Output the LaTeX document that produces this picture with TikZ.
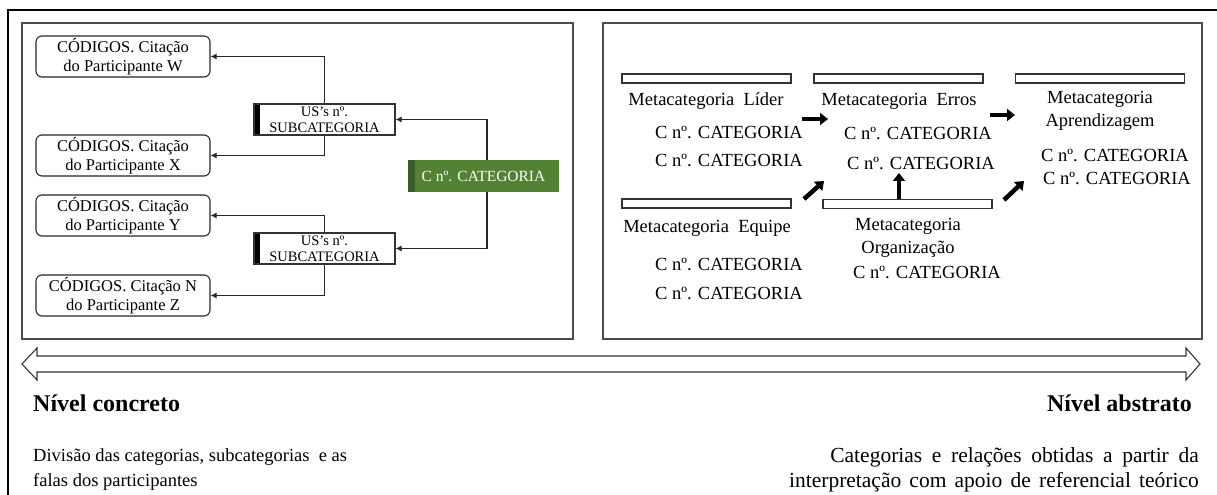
\documentclass[tikz,border=0pt]{standalone}
\usepackage{fontspec}
\setmainfont{Liberation Serif}
\usetikzlibrary{arrows.meta}
\newcommand{\fsz}[2]{\fontsize{#1bp}{#2bp}\selectfont}
\definecolor{catgreen}{HTML}{548235}
\definecolor{catdark}{HTML}{3B5E25}
\begin{document}
\begin{tikzpicture}[x=1bp,y=-1bp,
  panel/.style={draw=black!70,line width=1.4bp},
  codebox/.style={draw=black!85,line width=1.1bp,rounded corners=6bp,minimum width=174bp,minimum height=41bp,inner sep=0pt,align=center,font=\fsz{16.5}{19}},
  usbox/.style={draw=black!80,line width=1.1bp,minimum width=141bp,minimum height=31bp,inner sep=0pt,align=center,font=\fsz{14.5}{16},
    path picture={\fill[black] (path picture bounding box.south west) rectangle ([xshift=6bp]path picture bounding box.north west);}},
  catbox/.style={fill=catgreen,minimum width=151bp,minimum height=32bp,inner sep=0pt,text=white,font=\fsz{15.5}{18},
    path picture={\fill[catdark] (path picture bounding box.south west) rectangle ([xshift=7bp]path picture bounding box.north west);}},
  conn/.style={draw=black!85,line width=1.1bp,-{Latex[length=6bp,width=6bp]}},
  bar/.style={draw=black!80,line width=1.1bp,fill=white,minimum width=169bp,minimum height=9bp,inner sep=0pt},
  meta/.style={inner sep=0pt,font=\fsz{18.5}{23},align=center},
  blockarrow/.style={line width=4.5bp,-{Triangle[length=8bp,width=12bp]}},
  lvl/.style={inner sep=0pt,font=\bfseries\fsz{24}{28}},
  descl/.style={inner sep=0pt,font=\fsz{18.5}{25}},
  descr/.style={inner sep=0pt,font=\fsz{21.5}{25}}]
\useasboundingbox (0,0) rectangle (1217,495);
\begin{scope}
\clip (0,0) rectangle (1217,495);
% outer frame
\draw[line width=1.2bp] (8,520) -- (8,10) -- (1240,10);
\end{scope}
% the two panels
\draw[panel] (22,23) rectangle (573,339);
\draw[panel] (603,23) rectangle (1202,339);

% ---------- concrete level: codes, subcategories, category ----------
\node[codebox] (w) at (123,56.5) {CÓDIGOS. Citação\\do Participante W};
\node[codebox] (x) at (123,155.5) {CÓDIGOS. Citação\\do Participante X};
\node[codebox] (y) at (123,215.5) {CÓDIGOS. Citação\\do Participante Y};
\node[codebox] (z) at (123,295.5) {CÓDIGOS. Citação N\\do Participante Z};
\node[usbox] (us1) at (324.5,119.5) {US’s nº.\\SUBCATEGORIA};
\node[usbox] (us2) at (324.5,248.5) {US’s nº.\\SUBCATEGORIA};
\node[catbox] (cat) at (483.5,176) {C nº. CATEGORIA};

\draw[conn] ([xshift=3.5bp]cat.north) |- (us1.east);
\draw[conn] ([xshift=3.5bp]cat.south) |- (us2.east);
\draw[conn] (us1.north) |- (w.east);
\draw[conn] (us1.south) |- (x.east);
\draw[conn] (us2.north) |- (y.east);
\draw[conn] (us2.south) |- (z.east);

% ---------- abstract level: metacategories ----------
\node[bar] (barL) at (706.5,78.5) {};
\node[bar] (barE) at (898.5,78.5) {};
\node[bar] (barA) at (1100,78.5) {};
\node[bar] (barQ) at (706.5,203.5) {};
\node[bar] (barO) at (907.5,204) {};

\node[meta] (mL) at (706,101) {Metacategoria\ \ Líder};
\node[meta,anchor=west] (cL1) at (655,132) {C nº. CATEGORIA};
\node[meta,anchor=west] (cL2) at (655,160) {C nº. CATEGORIA};

\node[meta] (mE) at (899,101) {Metacategoria\ \ Erros};
\node[meta,anchor=west] (cE1) at (844,133) {C nº. CATEGORIA};
\node[meta,anchor=west] (cE2) at (847,163) {C nº. CATEGORIA};

\node[meta] (mA) at (1100,111) {Metacategoria\\Aprendizagem};
\node[meta,anchor=west] (cA1) at (1041,155) {C nº. CATEGORIA};
\node[meta,anchor=west] (cA2) at (1043,178) {C nº. CATEGORIA};

\node[meta] (mQ) at (707,228) {Metacategoria\ \ Equipe};
\node[meta,anchor=west] (cQ1) at (655,264) {C nº. CATEGORIA};
\node[meta,anchor=west] (cQ2) at (655,293) {C nº. CATEGORIA};

\node[meta] (mO) at (908,238) {Metacategoria\\Organização};
\node[meta,anchor=west] (cO) at (853,272) {C nº. CATEGORIA};

% block arrows between the metacategories
\coordinate (a1s) at (802,119);  \coordinate (a1e) at (828,119);
\coordinate (a2s) at (990,115);  \coordinate (a2e) at (1015,115);
\coordinate (a3s) at (804,199);  \coordinate (a3e) at (824,181);
\coordinate (a4s) at (899,199);  \coordinate (a4e) at (899,173);
\coordinate (a5s) at (1004,200); \coordinate (a5e) at (1024,181);
\draw[blockarrow] (a1s) -- (a1e);
\draw[blockarrow] (a2s) -- (a2e);
\draw[blockarrow] (a3s) -- (a3e);
\draw[blockarrow] (a4s) -- (a4e);
\draw[blockarrow] (a5s) -- (a5e);

% ---------- scale from concrete to abstract ----------
\draw[line width=1.1bp,draw=black!80,fill=white]
  (22,364) -- (37,348) -- (37,356) -- (1186,356) -- (1186,348) -- (1200,364)
  -- (1186,380) -- (1186,372) -- (37,372) -- (37,380) -- cycle;

\node[lvl,anchor=west] (nc) at (33,403) {Nível concreto};
\node[lvl,anchor=east] (na) at (1192,403) {Nível abstrato};
\node[descl,anchor=north west,align=left] (dc) at (33,448) {Divisão das categorias, subcategorias\ \ e as\\falas dos participantes};
\node[descr,anchor=north east,align=right] (da) at (1199,447)
  {\spaceskip=0.45em plus 0.1em Categorias e relações obtidas a partir da\\
   \spaceskip=0.38em plus 0.1em interpretação com apoio de referencial teórico};
\end{tikzpicture}
\end{document}
